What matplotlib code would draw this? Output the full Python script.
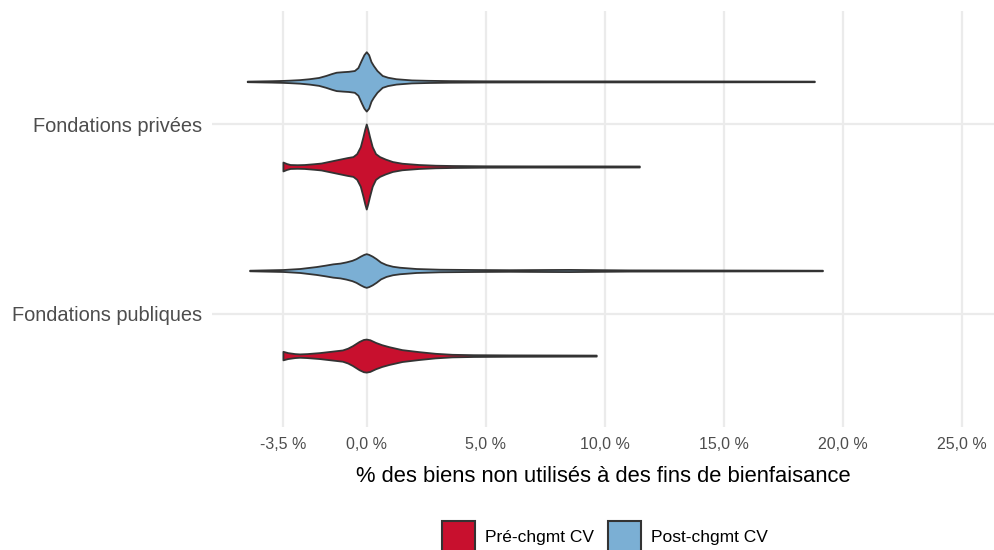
import numpy as np
import matplotlib
matplotlib.use("Agg")
from matplotlib import pyplot as plt
from matplotlib.patches import Patch

plt.rcParams['font.family'] = ['Liberation Sans', 'DejaVu Sans']

# categories (bottom -> top) and groups
categories = ['Fondations publiques', 'Fondations privées']
groupes = ['Pré-chgmt CV', 'Post-chgmt CV']
couleurs = {'Pré-chgmt CV': '#C8102E', 'Post-chgmt CV': '#7BAFD4'}

x_ticks = [-3.5, 0, 5, 10, 15, 20, 25]
x_labels = ['-3,5 %', '0,0 %', '5,0 %', '10,0 %', '15,0 %', '20,0 %', '25,0 %']

# violin profiles: value (%) and relative density
pub_pre_x = [-3.5, -3.3, -3.0, -2.8, -2.5, -1.97, -1.5, -1.0, -0.78, -0.58, -0.3, -0.12, 0,
             0.15, 0.39, 0.65, 0.95, 1.5, 2.2, 2.9, 3.6, 4.5, 6, 8, 9.66]
pub_pre_d = [4.3, 3.0, 2.0, 1.7, 2.0, 3.0, 4.3, 5.7, 7.5, 10, 14.3, 16.3, 16.7,
             16, 13.3, 11, 9, 6, 4, 2.3, 1.3, 0.9, 0.7, 0.6, 0.5]

pub_post_x = [-4.9, -4.3, -3.5, -2.8, -2.1, -1.7, -1.41, -1.1, -0.85, -0.6, -0.43, -0.25, -0.1, 0,
              0.1, 0.25, 0.41, 0.6, 0.83, 1.1, 1.4, 2.1, 3.07, 4.5, 6, 7.5, 8.5, 9.5, 11, 14, 17, 19.16]
pub_post_d = [0.3, 0.6, 1.0, 2.0, 4.0, 5.5, 6.7, 7.5, 8.7, 10.3, 12, 14.5, 16.3, 17,
              16.3, 14.5, 12, 8.5, 6, 4.3, 3.3, 2.0, 1.3, 1.0, 0.8, 1.0, 1.1, 0.9, 0.6, 0.5, 0.4, 0.3]

priv_pre_x = [-3.5, -3.35, -3.2, -2.9, -2.6, -2.2, -1.9, -1.6, -1.2, -0.8, -0.56, -0.4, -0.25, -0.14,
              -0.06, 0, 0.06, 0.14, 0.25, 0.39, 0.56, 0.8, 1.1, 1.5, 2.2, 2.9, 3.6, 5, 7, 9, 11.47]
priv_pre_d = [4.5, 3.0, 2.0, 1.8, 2.0, 2.8, 3.5, 5.0, 7.0, 9.0, 10.0, 13, 20, 30,
              38, 43, 38, 30, 20, 13, 10, 7.5, 5, 3.3, 2.0, 1.3, 1.0, 0.7, 0.6, 0.6, 0.5]

priv_post_x = [-5.0, -4.5, -4, -3.5, -3.2, -2.8, -2.4, -2.0, -1.7, -1.45, -1.26, -1.0, -0.75, -0.5,
               -0.35, -0.2, -0.1, 0, 0.1, 0.2, 0.3, 0.45, 0.67, 0.9, 1.25, 1.9, 2.6, 3.5, 5, 8, 12,
               16, 18.82]
priv_post_d = [0.3, 0.5, 0.7, 1.0, 1.3, 1.8, 2.7, 4.0, 6.0, 8.0, 9.3, 9.8, 10.2, 11.0,
               14, 22, 27, 30, 27, 20, 16, 11, 6, 4.2, 2.7, 1.5, 1.1, 0.8, 0.6, 0.5, 0.5,
               0.4, 0.3]

violons = {
    ('Fondations publiques', 'Pré-chgmt CV'): (pub_pre_x, pub_pre_d),
    ('Fondations publiques', 'Post-chgmt CV'): (pub_post_x, pub_post_d),
    ('Fondations privées', 'Pré-chgmt CV'): (priv_pre_x, priv_pre_d),
    ('Fondations privées', 'Post-chgmt CV'): (priv_post_x, priv_post_d),
}

fig = plt.figure(figsize=(9.95, 5.5), dpi=100)
ax = fig.add_axes([212 / 995, 1 - 427 / 550, 1 - 212 / 995, 416 / 550])

dmax = max(max(d) for _, d in violons.values())
largeur = 0.225  # half width of the widest violin (dodge 0.9 / 2 groups)
decalage = {'Pré-chgmt CV': -0.225, 'Post-chgmt CV': 0.225}

for i, cat in enumerate(categories):
    for g in groupes:
        x, d = violons[(cat, g)]
        x = np.array(x)
        w = np.array(d) / dmax * largeur
        yc = i + 1 + decalage[g]
        px = np.concatenate([x, x[::-1]])
        py = np.concatenate([yc + w, (yc - w)[::-1]])
        ax.fill(px, py, facecolor=couleurs[g], edgecolor='#333333', linewidth=1.3,
                joinstyle='round', zorder=3)

ax.set_xlim(-6.5, (995 - 367) / 23.8)
ax.set_ylim(0.4, 2.6)
ax.set_xticks(x_ticks)
ax.set_xticklabels(x_labels)
ax.set_yticks([1, 2])
ax.set_yticklabels(categories)

ax.grid(True, color='#EBEBEB', linewidth=1.6, zorder=0)
ax.set_axisbelow(True)
for s in ax.spines.values():
    s.set_visible(False)
ax.tick_params(axis='x', length=0, pad=7, labelsize=11.5, labelcolor='#4D4D4D')
ax.tick_params(axis='y', length=0, pad=7, labelsize=14.4, labelcolor='#4D4D4D')

ax.set_xlabel('% des biens non utilisés à des fins de bienfaisance', fontsize=15.8,
              color='black', labelpad=10)

handles = [Patch(facecolor=couleurs[g], edgecolor='#333333', linewidth=1.5, label=g)
           for g in groupes]
fig.legend(handles=handles, loc='center', bbox_to_anchor=(605 / 995, 1 - 537 / 550),
           ncol=2, frameon=False, fontsize=12.5, handlelength=1.9, handleheight=2.4,
           handletextpad=0.6, columnspacing=0.8, borderpad=0)

fig.savefig('out.png', dpi=100)
